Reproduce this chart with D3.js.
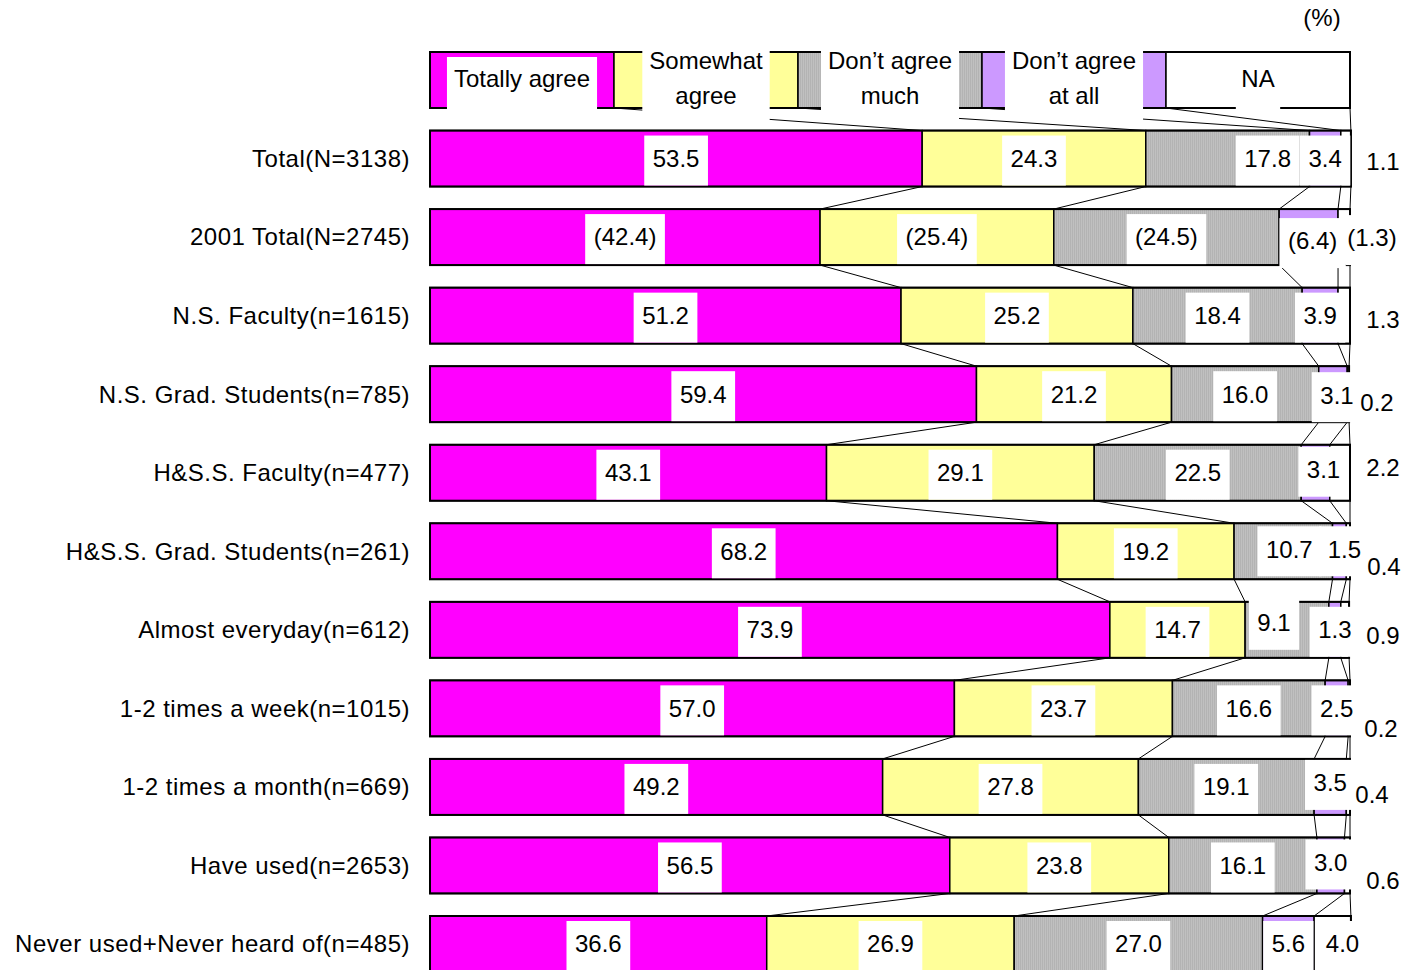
<!DOCTYPE html>
<html>
<head>
<meta charset="utf-8">
<script src="https://cdn.jsdelivr.net/npm/d3@7"></script>
<style>
  html, body { margin: 0; padding: 0; background: #fff; }
  svg { display: block; font-family: "Liberation Sans", Arial, sans-serif; }
</style>
</head>
<body>
<svg id="chart" width="1404" height="970"></svg>
<script>
// ---- data ----
const categories = [
  "Total(N=3138)",
  "2001 Total(N=2745)",
  "N.S. Faculty(n=1615)",
  "N.S. Grad. Students(n=785)",
  "H&S.S. Faculty(n=477)",
  "H&S.S. Grad. Students(n=261)",
  "Almost everyday(n=612)",
  "1-2 times a week(n=1015)",
  "1-2 times a month(n=669)",
  "Have used(n=2653)",
  "Never used+Never heard of(n=485)"
];
const seriesKeys = ["totally", "somewhat", "much", "atAll", "na"];
const legendLabels = [["Totally agree"], ["Somewhat", "agree"], ["Don’t agree", "much"], ["Don’t agree", "at all"], ["NA"]];
const totallyAgree   = [53.5, 42.4, 51.2, 59.4, 43.1, 68.2, 73.9, 57.0, 49.2, 56.5, 36.6];
const somewhatAgree  = [24.3, 25.4, 25.2, 21.2, 29.1, 19.2, 14.7, 23.7, 27.8, 23.8, 26.9];
const dontAgreeMuch  = [17.8, 24.5, 18.4, 16.0, 22.5, 10.7,  9.1, 16.6, 19.1, 16.1, 27.0];
const dontAgreeAtAll = [ 3.4,  6.4,  3.9,  3.1,  3.1,  1.5,  1.3,  2.5,  3.5,  3.0,  5.6];
const noAnswer       = [ 1.1,  1.3,  1.3,  0.2,  2.2,  0.4,  0.9,  0.2,  0.4,  0.6,  4.0];
// earlier survey shown in parentheses
const earlierSurvey  = [false, true, false, false, false, false, false, false, false, false, false];

// ---- layout ----
const fills = ["#ff00ff", "#ffff99", "url(#grayStripes)", "#cc99ff", "#ffffff"];
const barH = 56;
const fontPx = 24;
// small hand placements for crowded labels: "row:series" -> [dx, dy]
const labelNudge = {
  "0:2": [40, 0], "0:4": [0, 3],
  "1:3": [4, 4], "1:4": [-11, 1],
  "2:4": [0, 4],
  "3:3": [4, 1], "3:4": [-6, 8],
  "4:3": [8, -3], "4:4": [0, -5],
  "5:2": [6, -2], "5:3": [5, -2], "5:4": [1, 15],
  "6:2": [-13, -7], "6:4": [0, 6],
  "7:4": [-2, 20],
  "8:3": [0, -4], "8:4": [-11, 8],
  "9:3": [0, -3], "9:4": [0, 15],
  "10:4": [10, 0]
};

const svg = d3.select("#chart");

// fine vertical-stripe fill for the "Don't agree much" segments
const defs = svg.append("defs");
const pat = defs.append("pattern").attr("id", "grayStripes")
  .attr("patternUnits", "userSpaceOnUse").attr("width", 2).attr("height", 8);
pat.append("rect").attr("width", 2).attr("height", 8).attr("fill", "#c0c0c0");
pat.append("rect").attr("width", 1).attr("height", 8).attr("fill", "#b3b3b3");

const table = categories.map((c, i) => ({
  category: c,
  totally: totallyAgree[i],
  somewhat: somewhatAgree[i],
  much: dontAgreeMuch[i],
  atAll: dontAgreeAtAll[i],
  na: noAnswer[i],
  past: earlierSurvey[i]
}));
const legendRow = { category: "__legend", totally: 20, somewhat: 20, much: 20, atAll: 20, na: 20 };
const rows = [legendRow, ...table];

const stacked = d3.stack().keys(seriesKeys)(rows);

const x = d3.scaleLinear().domain([0, 100]).range([430, 1350]);
const y = d3.scalePoint().domain(rows.map(r => r.category)).range([80, 944]);

const fmt = d3.format(".1f");

// segments
const segLayer = svg.append("g");
stacked.forEach((layer, si) => {
  segLayer.selectAll(null).data(layer).enter().append("rect")
    .attr("x", d => x(d[0]))
    .attr("y", d => y(d.data.category) - barH / 2)
    .attr("width", d => Math.max(0, x(d[1]) - x(d[0])))
    .attr("height", barH)
    .attr("fill", fills[si])
    .attr("stroke", "#000")
    .attr("stroke-width", 1.5);
});

// bar outlines
svg.append("g").selectAll("rect").data(rows).enter().append("rect")
  .attr("x", x(0))
  .attr("y", d => y(d.category) - barH / 2)
  .attr("width", d => x(d3.sum(seriesKeys, k => d[k])) - x(0))
  .attr("height", barH)
  .attr("fill", "none")
  .attr("stroke", "#000")
  .attr("stroke-width", 2);

// series lines joining segment boundaries of neighbouring bars
const lineLayer = svg.append("g").attr("stroke", "#000").attr("stroke-width", 1);
for (let r = 0; r < rows.length - 1; r++) {
  stacked.forEach(layer => {
    const a = layer[r], b = layer[r + 1];
    lineLayer.append("line")
      .attr("x1", x(a[1])).attr("y1", y(a.data.category) + barH / 2)
      .attr("x2", x(b[1])).attr("y2", y(b.data.category) - barH / 2);
  });
}

// category labels
svg.append("g").selectAll("text").data(table).enter().append("text")
  .attr("x", 410)
  .attr("y", d => y(d.category))
  .attr("dy", "0.35em")
  .attr("text-anchor", "end")
  .attr("font-size", fontPx)
  .attr("letter-spacing", "0.5px")
  .attr("fill", "#000")
  .text(d => d.category);

// value labels on white boxes
const labelLayer = svg.append("g");
function boxedText(g, tx, ty, str, padX, boxTop, boxBottom) {
  const box = g.append("rect").attr("fill", "#fff");
  const t = g.append("text")
    .attr("x", tx).attr("y", ty).attr("dy", "0.35em")
    .attr("text-anchor", "middle")
    .attr("font-size", fontPx).attr("fill", "#000")
    .text(str);
  const w = t.node().getComputedTextLength();
  box.attr("x", tx - w / 2 - padX).attr("width", w + 2 * padX)
    .attr("y", ty + boxTop).attr("height", boxBottom - boxTop);
}

stacked.forEach((layer, si) => {
  layer.slice(1).forEach((d, ri) => {
    const row = d.data;
    const v = row[seriesKeys[si]];
    const str = row.past ? "(" + fmt(v) + ")" : fmt(v);
    let tx = (x(d[0]) + x(d[1])) / 2;
    let ty = y(row.category);
    const outside = si === 4 && v < 3.5;
    if (outside) tx = x(100) + 33; // tiny NA share goes beside the bar
    const n = labelNudge[ri + ":" + si];
    if (n) { tx += n[0]; ty += n[1]; }
    const g = labelLayer.append("g");
    boxedText(g, tx, ty, str, outside ? 2 : 8.5, -23, 27);
  });
});

// legend captions
const legendLayer = svg.append("g");
stacked.forEach((layer, si) => {
  const d = layer[0];
  const cx = (x(d[0]) + x(d[1])) / 2;
  const cy = y("__legend");
  const lines = legendLabels[si];
  const g = legendLayer.append("g");
  const box = g.append("rect").attr("fill", "#fff");
  const lh = 35;
  let maxW = 0;
  lines.forEach((ln, li) => {
    const t = g.append("text")
      .attr("x", cx)
      .attr("y", cy - 1.5 + (li - (lines.length - 1) / 2) * lh)
      .attr("dy", "0.35em")
      .attr("text-anchor", "middle")
      .attr("font-size", fontPx).attr("fill", "#000")
      .text(ln);
    maxW = Math.max(maxW, t.node().getComputedTextLength());
  });
  const pad = si === 4 ? 5.5 : 7;
  const top = lines.length > 1 ? cy - 40 : (si === 4 ? cy - 24 : cy - 23);
  const bottom = lines.length > 1 ? cy + 40 : cy + 30;
  box.attr("x", cx - maxW / 2 - pad).attr("width", maxW + 2 * pad)
    .attr("y", top).attr("height", bottom - top);
});

// unit note
svg.append("text")
  .attr("x", 1322).attr("y", 18).attr("dy", "0.35em")
  .attr("text-anchor", "middle")
  .attr("font-size", fontPx).attr("fill", "#000")
  .text("(%)");
</script>
</body>
</html>
